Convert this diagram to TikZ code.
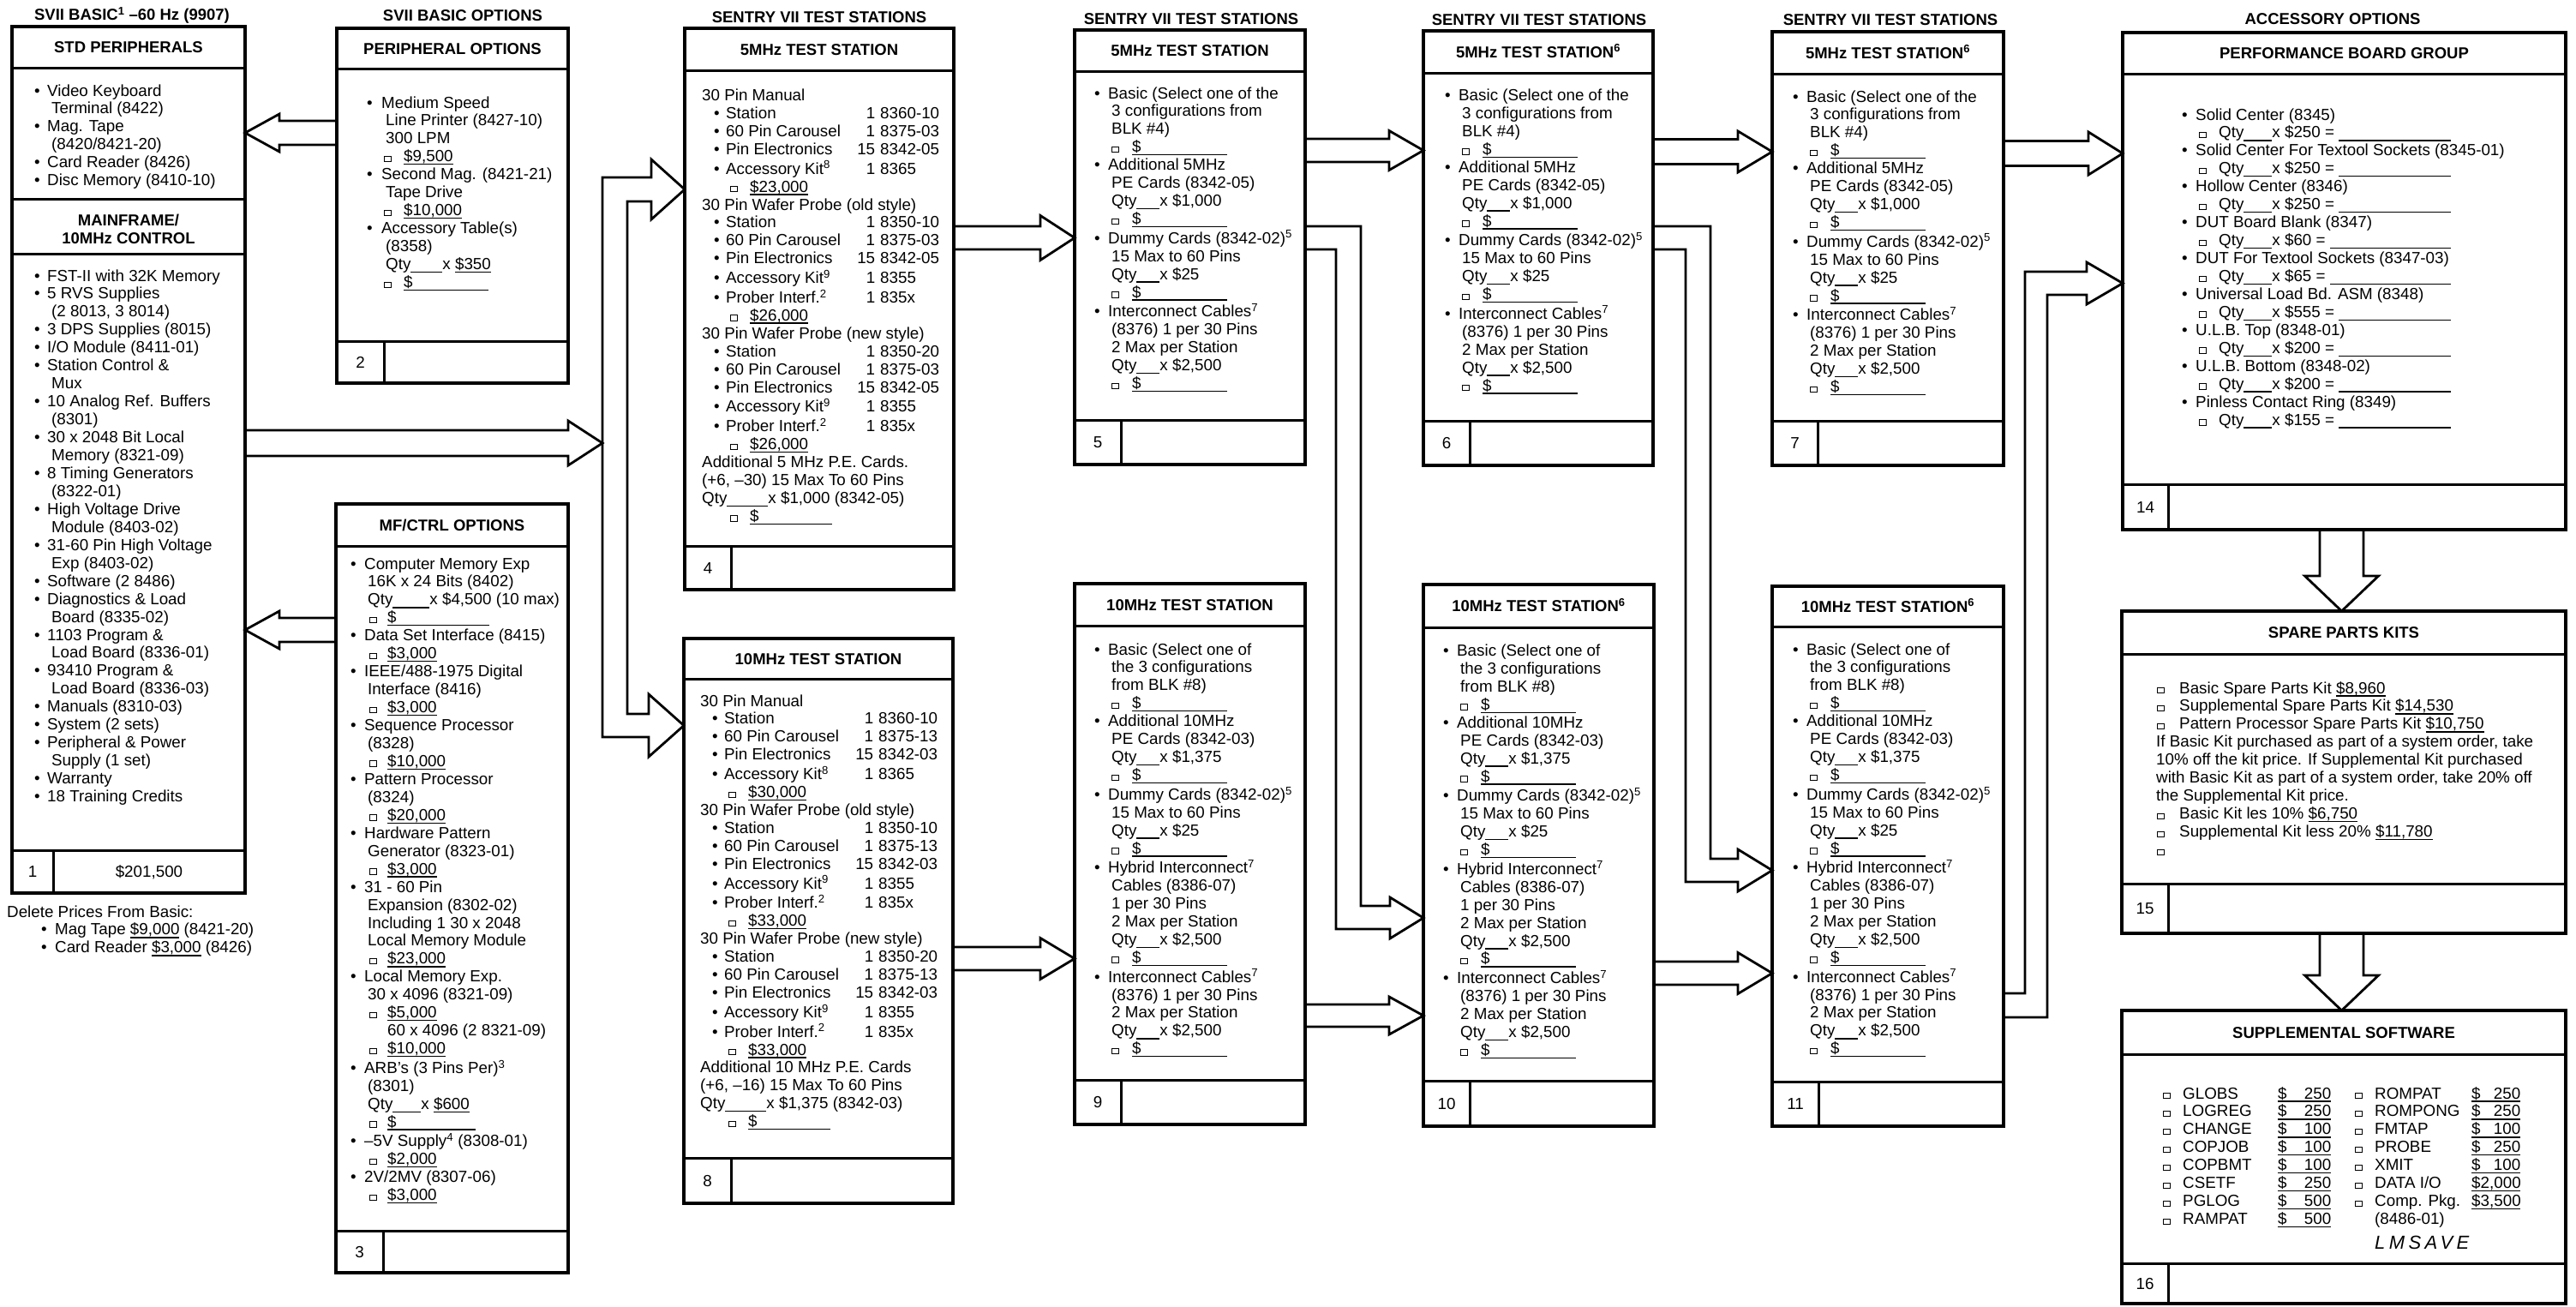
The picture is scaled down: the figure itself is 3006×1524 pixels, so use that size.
\documentclass[tikz,border=0pt]{standalone}
\usepackage{fontspec}
\setmainfont{Liberation Sans}
\usetikzlibrary{calc}

\newcommand\bodyfont{\fontsize{18.8}{20.95}\selectfont}
\newcommand\titlefont{\fontsize{18.5}{21}\selectfont\bfseries}
\newcommand\putx[2]{\rlap{\hspace*{#1pt}#2}}
\newcommand\row[1]{\noindent#1\strut\par}
\newcommand\uln[1]{\setbox0\hbox{#1}\rlap{\rule[-3.6pt]{\wd0}{1.4pt}}\box0\relax}
\newcommand\blank[1]{\rule[-3.6pt]{#1pt}{1.4pt}}
\newcommand\ufill{\leaders\hrule height -2.2pt depth 3.6pt\hfill\kern0pt}
\newcommand\chk{\raisebox{0.6pt}{\fboxsep0pt\fboxrule1pt\fbox{\rule{0pt}{5.4pt}\rule{6.4pt}{0pt}}}}
\newcommand\setoffs[4]{\def\oT{#1}\def\oC{#2}\def\oK{#3}\def\oD{#4}}
\setoffs{16}{20}{20}{44}
\newcommand\bl[1]{\row{\putx{0}{\textbullet}\putx{\oT}{#1}}}
\newcommand\cl[1]{\row{\putx{\oC}{#1}}}
\newcommand\kl[1]{\row{\putx{\oK}{\chk}\putx{\oD}{#1}}}
\newcommand\sigl[1]{\kl{\uln{\$\hspace{#1pt}}}}
\newenvironment{bodytext}{\begin{minipage}[t]{700pt}\bodyfont\parindent0pt\parskip0pt\relax}{\end{minipage}}
% box 4 / 8 lines
\newcommand\hd[1]{\row{\putx{0}{#1}}}
\newcommand\pl[3]{\row{\putx{14}{\textbullet}\putx{28}{#1}\putx{202}{\llap{#2}}\putx{208}{#3}}}
\newcommand\pk[1]{\row{\putx{33}{\chk}\putx{56}{#1}}}
% box 14 line
\newcommand\ql[1]{\row{\putx{20}{\chk}\putx{43}{\hbox to 271pt{Qty\blank{33}x \$#1 = \ufill}}}}
% box 16 row
\newcommand\sw[4]{\row{\putx{0}{\chk}\putx{23}{#1}\putx{134}{\uln{\makebox[62pt][l]{#2}}}\putx{224}{\chk}\putx{247}{#3}\putx{360}{\uln{\makebox[57pt][l]{#4}}}}}

\newcommand\fivelist{%
\bl{Basic (Select one of the}
\cl{3 configurations from}
\cl{BLK \#4)}
\sigl{100}
\bl{Additional 5MHz}
\cl{PE Cards (8342-05)}
\cl{Qty\blank{27}x \$1,000}
\sigl{100}
\bl{Dummy Cards (8342-02)\textsuperscript{5}}
\cl{15 Max to 60 Pins}
\cl{Qty\blank{27}x \$25}
\sigl{100}
\bl{Interconnect Cables\textsuperscript{7}}
\cl{(8376) 1 per 30 Pins}
\cl{2 Max per Station}
\cl{Qty\blank{27}x \$2,500}
\sigl{100}}

\newcommand\tenlist{%
\bl{Basic (Select one of}
\cl{the 3 configurations}
\cl{from BLK \#8)}
\sigl{100}
\bl{Additional 10MHz}
\cl{PE Cards (8342-03)}
\cl{Qty\blank{27}x \$1,375}
\sigl{100}
\bl{Dummy Cards (8342-02)\textsuperscript{5}}
\cl{15 Max to 60 Pins}
\cl{Qty\blank{27}x \$25}
\sigl{100}
\bl{Hybrid Interconnect\textsuperscript{7}}
\cl{Cables (8386-07)}
\cl{1 per 30 Pins}
\cl{2 Max per Station}
\cl{Qty\blank{27}x \$2,500}
\sigl{100}
\bl{Interconnect Cables\textsuperscript{7}}
\cl{(8376) 1 per 30 Pins}
\cl{2 Max per Station}
\cl{Qty\blank{27}x \$2,500}
\sigl{100}}

\newcommand\mkbox[9]{%
 \node[box, minimum width=#4pt, minimum height=#5pt] (b#1) at (#2,#3) {};
 \draw[divline] ($(b#1.north west)+(0,#6)$) -- ($(b#1.north east)+(0,#6)$);
 \draw[divline] ($(b#1.south west)+(0,-#7)$) -- ($(b#1.south east)+(0,-#7)$);
 \draw[divline] ($(b#1.south west)+(#8,0)$) -- ($(b#1.south west)+(#8,-#7)$);
 \node[ttl] (h#1) at ($(b#1.north)+(0,#6/2)$) {#9};
 \node[fnum] (f#1) at ($(b#1.south west)+(#8/2,-#7/2)$) {#1};}

% fat hollow arrows: #1 source node, #2 target node, #3 centre, #4 half shaft, #5 half head
\newcommand\fatR[5]{\draw[fat] ($(#1.east |- 0,#3)+(0,-#4)$) -- ($(#2.west |- 0,#3)+(-40,-#4)$) -- ($(#2.west |- 0,#3)+(-40,-#5)$) -- (#2.west |- 0,#3) -- ($(#2.west |- 0,#3)+(-40,#5)$) -- ($(#2.west |- 0,#3)+(-40,#4)$) -- ($(#1.east |- 0,#3)+(0,#4)$);}
\newcommand\fatL[5]{\draw[fat] ($(#1.west |- 0,#3)+(0,-#4)$) -- ($(#2.east |- 0,#3)+(40,-#4)$) -- ($(#2.east |- 0,#3)+(40,-#5)$) -- (#2.east |- 0,#3) -- ($(#2.east |- 0,#3)+(40,#5)$) -- ($(#2.east |- 0,#3)+(40,#4)$) -- ($(#1.west |- 0,#3)+(0,#4)$);}
\newcommand\fatD[5]{\draw[fat] ($(#1.south -| #3,0)+(-#4,0)$) -- ($(#2.north -| #3,0)+(-#4,-41)$) -- ($(#2.north -| #3,0)+(-#5,-41)$) -- (#2.north -| #3,0) -- ($(#2.north -| #3,0)+(#5,-41)$) -- ($(#2.north -| #3,0)+(#4,-41)$) -- ($(#1.south -| #3,0)+(#4,0)$);}

\begin{document}
\begin{tikzpicture}[x=1pt,y=-1pt,
 box/.style={draw, line width=4.5pt, rectangle, inner sep=0pt, outer sep=0pt, anchor=north west},
 divline/.style={line width=3pt},
 fat/.style={line width=2.8pt, line join=miter, miter limit=10},
 ttl/.style={font=\titlefont, inner sep=0pt, text height=13.3pt, text depth=0pt},
 fnum/.style={font=\bodyfont, inner sep=0pt, text height=13.5pt, text depth=0pt},
 body/.style={anchor=base west, inner sep=0pt}]
\fill[white] (0,0) rectangle (3006,1524);
\useasboundingbox (0,0) rectangle (3006,1524);

% ---------- column titles ----------
\node[ttl] (s1) at (154,17) {SVII BASIC\textsuperscript{1} \textendash60 Hz (9907)};
\node[ttl] (s2) at (540,18) {SVII BASIC OPTIONS};
\node[ttl] (s4) at (956,20) {SENTRY VII TEST STATIONS};
\node[ttl] (s5) at (1390,22) {SENTRY VII TEST STATIONS};
\node[ttl] (s6) at (1796,23) {SENTRY VII TEST STATIONS};
\node[ttl] (s7) at (2206,23) {SENTRY VII TEST STATIONS};
\node[ttl] (s14) at (2722,22) {ACCESSORY OPTIONS};

% ---------- boxes ----------
\mkbox{1}{14}{31}{272}{1011}{48}{50}{48}{STD PERIPHERALS}
\mkbox{2}{393}{33}{270}{414}{47}{49}{55}{PERIPHERAL OPTIONS}
\mkbox{3}{392}{588}{271}{897}{49}{49}{55}{MF/CTRL OPTIONS}
\mkbox{4}{799}{33}{314}{655}{49}{51}{54}{5MHz TEST STATION}
\mkbox{8}{798}{745}{314}{659}{47}{53}{55}{10MHz TEST STATION}
\mkbox{5}{1254}{35}{269}{507}{48}{52}{54}{5MHz TEST STATION}
\mkbox{6}{1661}{36}{268}{507}{49}{52}{54}{5MHz TEST STATION\textsuperscript{6}}
\mkbox{7}{2068}{37}{270}{506}{49}{52}{53}{5MHz TEST STATION\textsuperscript{6}}
\mkbox{9}{1254}{681}{269}{631}{49}{52}{54}{10MHz TEST STATION}
\mkbox{10}{1661}{682}{269}{632}{50}{53}{54}{10MHz TEST STATION\textsuperscript{6}}
\mkbox{11}{2068}{684}{270}{630}{47}{52}{54}{10MHz TEST STATION\textsuperscript{6}}
\mkbox{14}{2477}{38}{517}{580}{48}{53}{53}{PERFORMANCE BOARD GROUP}
\mkbox{15}{2476}{713}{518}{376}{50}{58}{54}{SPARE PARTS KITS}
\mkbox{16}{2476}{1179}{518}{342}{51}{47}{54}{SUPPLEMENTAL SOFTWARE}

% box 1 extra cells
\draw[divline] (b1.west |- 0,232) -- (b1.east |- 0,232);
\draw[divline] (b1.west |- 0,296) -- (b1.east |- 0,296);
\node[font=\titlefont, align=center, inner sep=0pt] (mf) at (150,267) {MAINFRAME/\\10MHz CONTROL};
\node[fnum] (p1) at (174,1017) {\$201,500};

% ---------- box texts ----------
\node[body] (t1a) at (40,112) {\begin{bodytext}\setoffs{15}{20}{20}{44}
\bl{Video Keyboard}
\cl{Terminal (8422)}
\bl{Mag. Tape}
\cl{(8420/8421-20)}
\bl{Card Reader (8426)}
\bl{Disc Memory (8410-10)}
\end{bodytext}};

\node[body] (t1b) at (40,328) {\begin{bodytext}\setoffs{15}{20}{20}{44}
\bl{FST-II with 32K Memory}
\bl{5 RVS Supplies}
\cl{(2 8013, 3 8014)}
\bl{3 DPS Supplies (8015)}
\bl{I/O Module (8411-01)}
\bl{Station Control \&}
\cl{Mux}
\bl{10 Analog Ref. Buffers}
\cl{(8301)}
\bl{30 x 2048 Bit Local}
\cl{Memory (8321-09)}
\bl{8 Timing Generators}
\cl{(8322-01)}
\bl{High Voltage Drive}
\cl{Module (8403-02)}
\bl{31-60 Pin High Voltage}
\cl{Exp (8403-02)}
\bl{Software (2 8486)}
\bl{Diagnostics \& Load}
\cl{Board (8335-02)}
\bl{1103 Program \&}
\cl{Load Board (8336-01)}
\bl{93410 Program \&}
\cl{Load Board (8336-03)}
\bl{Manuals (8310-03)}
\bl{System (2 sets)}
\bl{Peripheral \& Power}
\cl{Supply (1 set)}
\bl{Warranty}
\bl{18 Training Credits}
\end{bodytext}};

\node[body] (del) at (8,1070) {\begin{bodytext}
\row{\putx{0}{Delete Prices From Basic:}}
\row{\putx{40}{\textbullet}\putx{56}{Mag Tape \uln{\$9,000} (8421-20)}}
\row{\putx{40}{\textbullet}\putx{56}{Card Reader \uln{\$3,000} (8426)}}
\end{bodytext}};

\node[body] (t2) at (428,126) {\begin{bodytext}\setoffs{17}{22}{20}{43}
\bl{Medium Speed}
\cl{Line Printer (8427-10)}
\cl{300 LPM}
\kl{\uln{\$9,500}}
\bl{Second Mag. (8421-21)}
\cl{Tape Drive}
\kl{\uln{\$10,000}}
\bl{Accessory Table(s)}
\cl{(8358)}
\cl{Qty\blank{37}x \uln{\$350}}
\sigl{88}
\end{bodytext}};

\node[body] (t3) at (409,664) {\begin{bodytext}\setoffs{16}{20}{22}{43}
\bl{Computer Memory Exp}
\cl{16K x 24 Bits (8402)}
\cl{Qty\blank{43}x \$4,500 (10 max)}
\sigl{108}
\bl{Data Set Interface (8415)}
\kl{\uln{\$3,000}}
\bl{IEEE/488-1975 Digital}
\cl{Interface (8416)}
\kl{\uln{\$3,000}}
\bl{Sequence Processor}
\cl{(8328)}
\kl{\uln{\$10,000}}
\bl{Pattern Processor}
\cl{(8324)}
\kl{\uln{\$20,000}}
\bl{Hardware Pattern}
\cl{Generator (8323-01)}
\kl{\uln{\$3,000}}
\bl{31 - 60 Pin}
\cl{Expansion (8302-02)}
\cl{Including 1 30 x 2048}
\cl{Local Memory Module}
\kl{\uln{\$23,000}}
\bl{Local Memory Exp.}
\cl{30 x 4096 (8321-09)}
\kl{\uln{\$5,000}}
\row{\putx{43}{60 x 4096 (2 8321-09)}}
\kl{\uln{\$10,000}}
\bl{ARB’s (3 Pins Per)\textsuperscript{3}}
\cl{(8301)}
\cl{Qty\blank{33}x \uln{\$600}}
\sigl{92}
\bl{\textendash5V Supply\textsuperscript{4} (8308-01)}
\kl{\uln{\$2,000}}
\bl{2V/2MV (8307-06)}
\kl{\uln{\$3,000}}
\end{bodytext}};

\node[body] (t4) at (819,117.5) {\begin{bodytext}
\hd{30 Pin Manual}
\pl{Station}{1}{8360-10}
\pl{60 Pin Carousel}{1}{8375-03}
\pl{Pin Electronics}{15}{8342-05}
\pl{Accessory Kit\textsuperscript{8}}{1}{8365}
\pk{\uln{\$23,000}}
\hd{30 Pin Wafer Probe (old style)}
\pl{Station}{1}{8350-10}
\pl{60 Pin Carousel}{1}{8375-03}
\pl{Pin Electronics}{15}{8342-05}
\pl{Accessory Kit\textsuperscript{9}}{1}{8355}
\pl{Prober Interf.\textsuperscript{2}}{1}{835x}
\pk{\uln{\$26,000}}
\hd{30 Pin Wafer Probe (new style)}
\pl{Station}{1}{8350-20}
\pl{60 Pin Carousel}{1}{8375-03}
\pl{Pin Electronics}{15}{8342-05}
\pl{Accessory Kit\textsuperscript{9}}{1}{8355}
\pl{Prober Interf.\textsuperscript{2}}{1}{835x}
\pk{\uln{\$26,000}}
\hd{Additional 5 MHz P.E. Cards.}
\hd{(+6, \textendash30) 15 Max To 60 Pins}
\hd{Qty\blank{48}x \$1,000 (8342-05)}
\pk{\uln{\$\hspace{85pt}}}
\end{bodytext}};

\node[body] (t8) at (817,824) {\begin{bodytext}
\hd{30 Pin Manual}
\pl{Station}{1}{8360-10}
\pl{60 Pin Carousel}{1}{8375-13}
\pl{Pin Electronics}{15}{8342-03}
\pl{Accessory Kit\textsuperscript{8}}{1}{8365}
\pk{\uln{\$30,000}}
\hd{30 Pin Wafer Probe (old style)}
\pl{Station}{1}{8350-10}
\pl{60 Pin Carousel}{1}{8375-13}
\pl{Pin Electronics}{15}{8342-03}
\pl{Accessory Kit\textsuperscript{9}}{1}{8355}
\pl{Prober Interf.\textsuperscript{2}}{1}{835x}
\pk{\uln{\$33,000}}
\hd{30 Pin Wafer Probe (new style)}
\pl{Station}{1}{8350-20}
\pl{60 Pin Carousel}{1}{8375-13}
\pl{Pin Electronics}{15}{8342-03}
\pl{Accessory Kit\textsuperscript{9}}{1}{8355}
\pl{Prober Interf.\textsuperscript{2}}{1}{835x}
\pk{\uln{\$33,000}}
\hd{Additional 10 MHz P.E. Cards}
\hd{(+6, \textendash16) 15 Max To 60 Pins}
\hd{Qty\blank{48}x \$1,375 (8342-03)}
\pk{\uln{\$\hspace{85pt}}}
\end{bodytext}};

\node[body] (t5) at (1277,115) {\begin{bodytext}\fivelist\end{bodytext}};
\node[body] (t6) at (1686,117.5) {\begin{bodytext}\fivelist\end{bodytext}};
\node[body] (t7) at (2092,119) {\begin{bodytext}\fivelist\end{bodytext}};
\node[body] (t9) at (1277,764) {\begin{bodytext}\tenlist\end{bodytext}};
\node[body] (t10) at (1684,765.5) {\begin{bodytext}\tenlist\end{bodytext}};
\node[body] (t11) at (2092,764) {\begin{bodytext}\tenlist\end{bodytext}};

\node[body] (t14) at (2546,140) {\begin{bodytext}
\bl{Solid Center (8345)}
\ql{250}
\bl{Solid Center For Textool Sockets (8345-01)}
\ql{250}
\bl{Hollow Center (8346)}
\ql{250}
\bl{DUT Board Blank (8347)}
\ql{60}
\bl{DUT For Textool Sockets (8347-03)}
\ql{65}
\bl{Universal Load Bd. ASM (8348)}
\ql{555}
\bl{U.L.B. Top (8348-01)}
\ql{200}
\bl{U.L.B. Bottom (8348-02)}
\ql{200}
\bl{Pinless Contact Ring (8349)}
\ql{155}
\end{bodytext}};

\node[body] (t15) at (2516,809) {\begin{bodytext}
\row{\putx{1}{\chk}\putx{27}{Basic Spare Parts Kit \uln{\$8,960}}}
\row{\putx{1}{\chk}\putx{27}{Supplemental Spare Parts Kit \uln{\$14,530}}}
\row{\putx{1}{\chk}\putx{27}{Pattern Processor Spare Parts Kit \uln{\$10,750}}}
\row{\putx{0}{If Basic Kit purchased as part of a system order, take}}
\row{\putx{0}{10\% off the kit price. If Supplemental Kit purchased}}
\row{\putx{0}{with Basic Kit as part of a system order, take 20\% off}}
\row{\putx{0}{the Supplemental Kit price.}}
\row{\putx{1}{\chk}\putx{27}{Basic Kit les 10\% \uln{\$6,750}}}
\row{\putx{1}{\chk}\putx{27}{Supplemental Kit less 20\% \uln{\$11,780}}}
\row{\putx{1}{\chk}}
\end{bodytext}};

\node[body] (t16) at (2524,1282) {\begin{bodytext}
\sw{GLOBS}{\$\hfill 250}{ROMPAT}{\$\hfill 250}
\sw{LOGREG}{\$\hfill 250}{ROMPONG}{\$\hfill 250}
\sw{CHANGE}{\$\hfill 100}{FMTAP}{\$\hfill 100}
\sw{COPJOB}{\$\hfill 100}{PROBE}{\$\hfill 250}
\sw{COPBMT}{\$\hfill 100}{XMIT}{\$\hfill 100}
\sw{CSETF}{\$\hfill 250}{DATA I/O}{\$2,000}
\sw{PGLOG}{\$\hfill 500}{Comp. Pkg.}{\$3,500}
\row{\putx{0}{\chk}\putx{23}{RAMPAT}\putx{134}{\uln{\makebox[62pt][l]{\$\hfill 500}}}\putx{247}{(8486-01)}}
\end{bodytext}};
\node[body, font=\fontsize{22}{24}\selectfont\itshape] (lm) at (2771,1457) {\addfontfeatures{LetterSpace=20}LMSAVE};

% ---------- connectors ----------
\fatL{b2}{b1}{155}{14}{22}
\fatL{b3}{b1}{735}{14}{22}
\coordinate (bus) at (703,517);
\draw[fat] ($(b1.east |- 0,517)+(0,-15)$) -- (663,502) -- (663,491) -- (bus) -- (663,543) -- (663,532) -- ($(b1.east |- 0,517)+(0,15)$);
\draw[fat] (760,186) -- (b4.west |- 0,221) -- (760,256) -- (760,235) -- (732,235) -- (732,833) -- (757,833) -- (757,810) -- (b8.west |- 0,846.5) -- (757,883) -- (757,860) -- (703,860) -- (703,207) -- (760,207) -- cycle;
\fatR{b4}{b5}{277.5}{13.5}{26}
\fatR{b5}{b6}{175.5}{13.5}{23}
\fatR{b6}{b7}{177}{14.5}{24}
\fatR{b7}{b14}{179}{14.5}{25}
\fatR{b8}{b9}{1118.5}{13.5}{24}
\fatR{b9}{b10}{1185}{13}{22}
\fatR{b10}{b11}{1135.5}{13.5}{24}
\draw[fat] (b5.east |- 0,264) -| (1588,1057) -- (1622,1057) -- (1622,1047) -- (b10.west |- 0,1071) -- (1622,1095) -- (1622,1084) -| (1559,291) -- (b5.east |- 0,291);
\draw[fat] (b6.east |- 0,264) -| (1996,1002) -- (2028,1002) -- (2028,991) -- (b11.west |- 0,1015.5) -- (2028,1040) -- (2028,1029) -| (1967,291) -- (b6.east |- 0,291);
\draw[fat] (b11.east |- 0,1159) -| (2363,317) -- (2435,317) -- (2435,306) -- (b14.west |- 0,330.5) -- (2435,355) -- (2435,344) -| (2389,1187) -- (b11.east |- 0,1187);
\fatD{b14}{b15}{2732.5}{25.5}{43}
\fatD{b15}{b16}{2732.5}{25.5}{43}
\end{tikzpicture}
\end{document}
